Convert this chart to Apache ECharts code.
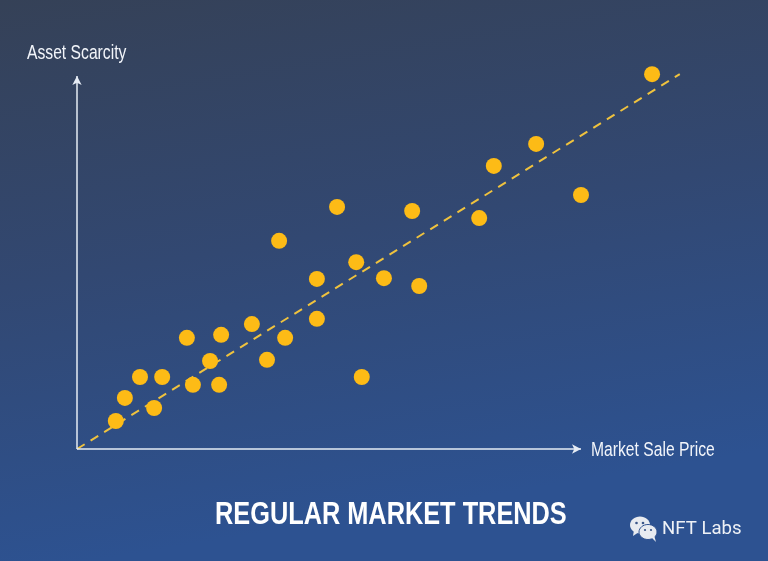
<!DOCTYPE html>
<html>
<head>
<meta charset="utf-8">
<style>html,body{margin:0;padding:0;background:#2f4a7e}#c{width:768px;height:561px}</style>
<script src="https://cdn.jsdelivr.net/npm/echarts@6/dist/echarts.min.js"></script>
</head>
<body>
<div id="c"></div>
<script>
const titleText = 'REGULAR MARKET TRENDS';
const xName = 'Market Sale Price';
const yName = 'Asset Scarcity';
const watermark = 'NFT Labs';
const salePrice = [7.7,9.5,12.5,16.9,15.3,23.0,28.2,26.4,21.8,28.6,34.7,37.7,41.3,47.6,47.6,40.1,51.6,55.4,60.9,67.9,56.5,66.5,79.8,82.7,91.1,100,114.1];
const scarcity = [7.5,13.7,19.3,19.3,11.0,17.2,17.2,23.6,29.8,30.6,33.5,23.9,29.8,34.9,45.6,55.8,64.9,50.1,45.8,43.7,19.3,63.8,61.9,75.9,81.8,68.1,100.5];
const trendX = [0,119.6];
const trendY = [0,100.5];
const axisEnd = 100;

const chart = echarts.init(document.getElementById('c'), null, {renderer:'canvas'});
const axisCommon = {
  type:'value', min:0, splitLine:{show:false}, axisLine:{show:false},
  axisTick:{show:false}, axisLabel:{show:false}
};
const narrow = (text,x,y,sx,size) => ({type:'text',x:x,y:y,scaleX:sx,
  style:{text:text,fill:'#f2f5fa',font:size+'px "Liberation Sans"'}});
chart.setOption({
  animation:false,
  backgroundColor:new echarts.graphic.LinearGradient(0,0,0.12,1,[
    {offset:0,color:'#354157'},{offset:0.5,color:'#324872'},{offset:1,color:'#2d5291'}
  ]),
  grid:{left:77,top:49,width:630,height:400},
  xAxis:Object.assign({},axisCommon,{max:125}),
  yAxis:Object.assign({},axisCommon,{max:107.24}),
  series:[
    {type:'line',data:trendX.map((x,i)=>[x,trendY[i]]),symbol:'none',clip:false,z:2,
     lineStyle:{color:'#efc23e',width:2,type:[9,7]},
     markLine:{silent:true,symbol:['none','arrow'],symbolSize:[7,9],label:{show:false},
       lineStyle:{color:'#e6ecf5',width:1.5,type:'solid'},
       data:[
         [{coord:[0,0]},{coord:[axisEnd,0]}],
         [{coord:[0,0]},{coord:[0,axisEnd]}]
       ]}},
    {type:'scatter',data:salePrice.map((x,i)=>[x,scarcity[i]]),symbolSize:16,clip:false,z:3,
     itemStyle:{color:'#fdbb16',opacity:1}}
  ],
  graphic:[
    narrow(yName,27,43,0.765,20.5),
    narrow(xName,591,440,0.765,20.5),
    {type:'text',x:215,y:500,scaleX:0.817,style:{text:titleText,fill:'#ffffff',font:'bold 31px "Liberation Sans"'}},
    {type:'text',x:662,y:520,style:{text:watermark,fill:'#eef1f6',font:'18.6px Roboto'}},
    {type:'group',x:630,y:517,children:[
      {type:'ellipse',shape:{cx:10,cy:8,rx:10,ry:8.5},style:{fill:'#e8ebf0'}},
      {type:'polygon',shape:{points:[[4,13],[3,19],[9,15]]},style:{fill:'#e8ebf0'}},
      {type:'circle',shape:{cx:6.5,cy:6,r:1.3},style:{fill:'#3a5688'}},
      {type:'circle',shape:{cx:13,cy:6,r:1.3},style:{fill:'#3a5688'}},
      {type:'ellipse',shape:{cx:18,cy:15,rx:9,ry:7.5},style:{fill:'#e8ebf0',stroke:'#2e5190',lineWidth:1}},
      {type:'polygon',shape:{points:[[21,20],[26,25],[24,18]]},style:{fill:'#e8ebf0'}},
      {type:'circle',shape:{cx:15,cy:13,r:1.1},style:{fill:'#3a5688'}},
      {type:'circle',shape:{cx:21,cy:13,r:1.1},style:{fill:'#3a5688'}}
    ]}
  ]
});
</script>
</body>
</html>
